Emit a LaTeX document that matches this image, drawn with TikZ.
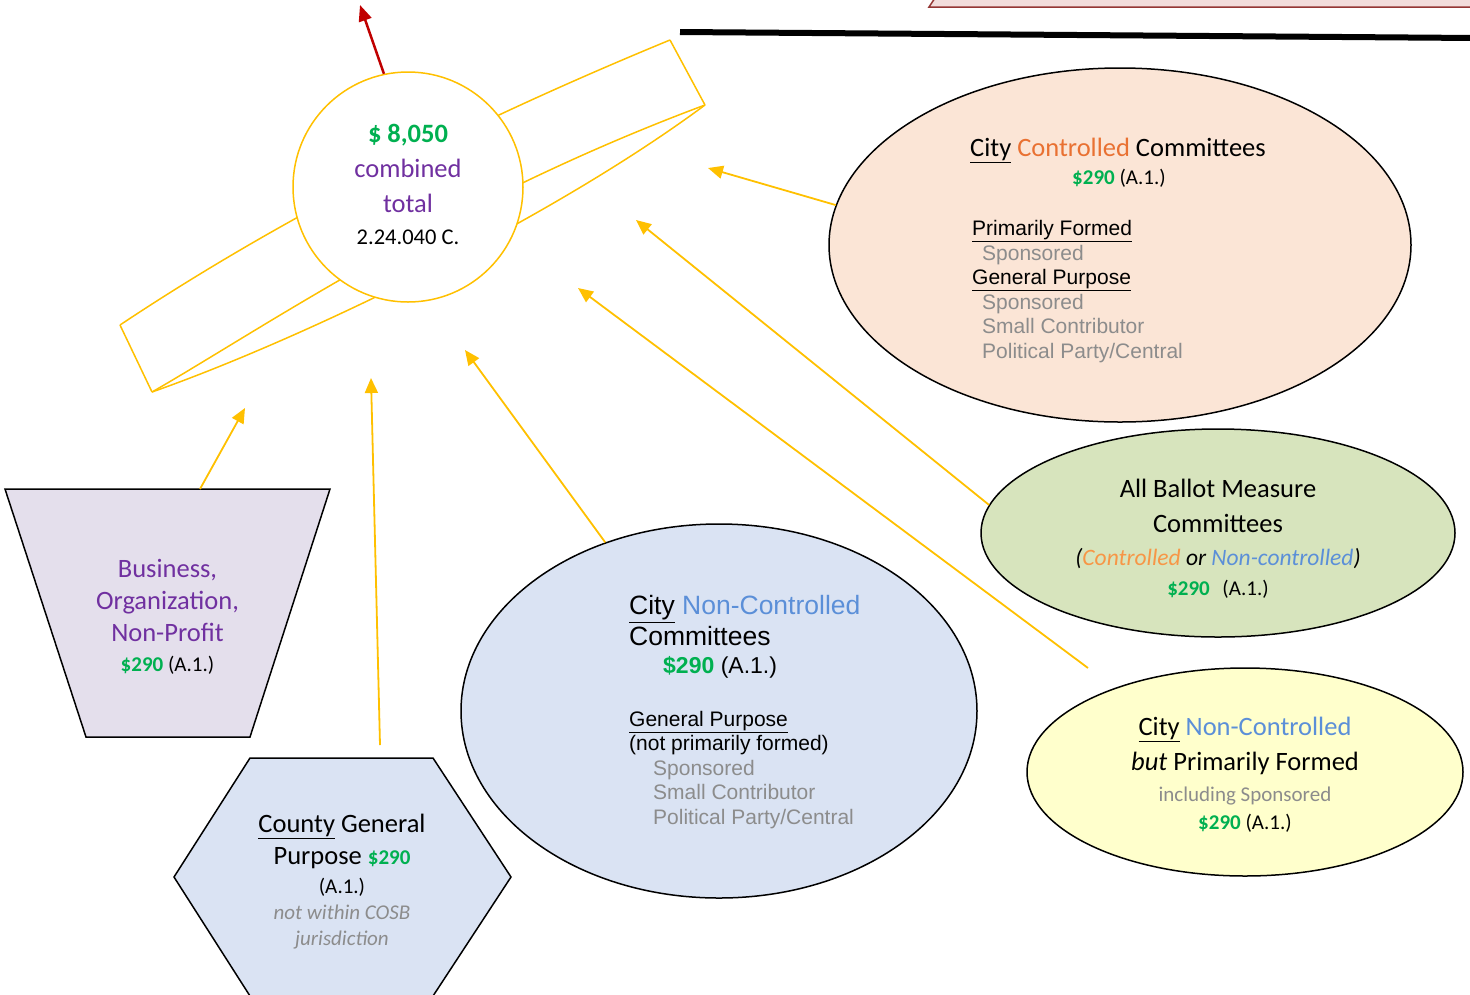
\documentclass[tikz,border=0pt]{standalone}
\usepackage{fontspec}
\setmainfont{Carlito}
\newfontfamily\arialfont{Liberation Sans}
\usetikzlibrary{arrows.meta,calc,shapes.geometric}
\usepackage{xcolor}

\definecolor{gold}{HTML}{FFC000}
\definecolor{cash}{HTML}{00B050}
\definecolor{plum}{HTML}{7030A0}
\definecolor{ctrl}{HTML}{E97132}
\definecolor{ctrllight}{HTML}{F79646}
\definecolor{nonctrl}{HTML}{5B8FD8}
\definecolor{greytext}{HTML}{8C8C8C}
\definecolor{peach}{HTML}{FBE5D6}
\definecolor{lavender}{HTML}{E4DFEC}
\definecolor{paleblue}{HTML}{DAE3F3}
\definecolor{sage}{HTML}{D7E4BD}
\definecolor{cream}{HTML}{FFFFCC}
\definecolor{rose}{HTML}{F2DCDB}
\definecolor{roseline}{HTML}{943634}
\definecolor{alarm}{HTML}{C00000}

\newcommand\setfs[2]{\fontsize{#1}{#2}\selectfont}
\newcommand\amt[1]{\textcolor{cash}{\bfseries\$#1}}

\tikzset{
  bubble/.style={ellipse, draw=black, line width=1.5pt, inner sep=0pt, align=center},
  feed/.style={draw=gold, line width=1.8pt, -{Triangle[length=15pt,width=13pt]}},
  band/.style={draw=gold, line width=1.5pt},
  txt/.style={inner sep=0pt, align=left},
}

\begin{document}
\begin{tikzpicture}[x=1pt,y=-1pt]
  \useasboundingbox (0,0) rectangle (1470,994);

  % shapes cut off at the top
  \filldraw[fill=rose, draw=roseline, line width=1.5pt] (929,7) -- (937,-5) -- (1480,-5) -- (1480,7) -- cycle;
  \draw[line width=6pt] (680,32) -- (1475,38);

  % ring round the total
  \draw[band] (120,325) -- (152,392);
  \draw[band] (670,40) -- (705,105);
  \draw[band] (120,325) .. controls (300,205) and (500,110) .. (670,40);
  \draw[band] (152,392) .. controls (260,330) and (450,200) .. (705,105);
  \draw[band] (152,392) .. controls (300,340) and (550,220) .. (705,105);

  \node[circle, draw=gold, line width=1.5pt, fill=white, minimum size=230pt, inner sep=0pt] (total) at (408,187) {};
  \node[inner sep=0pt, align=center, font=\setfs{26.5}{35}] (totaltext) at ($(total.center)+(0,-3)$)
    {\textcolor{cash}{\bfseries\$ 8,050}\\ \textcolor{plum}{combined}\\ \textcolor{plum}{total}\\[-3pt]
     {\setfs{22.5}{27}2.24.040 C.}};

  % committees
  \node[bubble, fill=peach, minimum width=582pt, minimum height=354pt] (cc) at (1120,245) {};
  \node[txt, anchor=north west, font=\arialfont\setfs{21}{24.5}] (cctext) at (970,138)
    {{\rmfamily\setfs{26.5}{31}\underline{City} \textcolor{ctrl}{Controlled} Committees}\\[3pt]
     \hspace*{102pt}{\rmfamily\amt{290} (A.1.)}\\[27pt]
     \hspace*{2pt}\underline{Primarily Formed}\\
     \hspace*{12pt}\textcolor{greytext}{Sponsored}\\
     \hspace*{2pt}\underline{General Purpose}\\
     \hspace*{12pt}\textcolor{greytext}{Sponsored}\\
     \hspace*{12pt}\textcolor{greytext}{Small Contributor}\\
     \hspace*{12pt}\textcolor{greytext}{Political Party/Central}};

  \node[bubble, fill=sage, minimum width=474pt, minimum height=208pt] (ballot) at (1218,533) {};
  \node[inner sep=0pt, align=center, font=\setfs{26.5}{35}] (ballottext) at ($(ballot.center)+(0,6)$)
    {All Ballot Measure\\ Committees\\[-2pt]
     {\setfs{23.5}{28}\itshape(\textcolor{ctrllight}{Controlled} or \textcolor{nonctrl}{Non-controlled})}\\[-5pt]
     {\setfs{21}{25}\amt{290}\hspace{0.6em}(A.1.)}};

  \node[bubble, fill=cream, minimum width=436pt, minimum height=208pt] (pf) at (1245,772) {};
  \node[inner sep=0pt, align=center, font=\setfs{26.5}{35}] (pftext) at ($(pf.center)+(0,3)$)
    {\underline{City} \textcolor{nonctrl}{Non-Controlled}\\ \textit{but} Primarily Formed\\[-4pt]
     {\setfs{21}{25}\color{greytext}including Sponsored}\\[-7pt]
     {\setfs{21}{25}\amt{290} (A.1.)}};

  \node[bubble, fill=paleblue, minimum width=516pt, minimum height=374pt] (cnc) at (719,711) {};
  \node[txt, anchor=north west, font=\arialfont\setfs{21}{24.5}] (cnctext) at (629,595.5)
    {{\setfs{26.5}{31}\underline{City} \textcolor{nonctrl}{Non-Controlled}}\\[2.5pt]
     {\setfs{26.5}{31}Committees}\\[3.5pt]
     \hspace*{34pt}{\setfs{23}{28}\amt{290} (A.1.)}\\[28.5pt]
     \underline{General Purpose}\\
     (not primarily formed)\\
     \hspace*{24pt}\textcolor{greytext}{Sponsored}\\
     \hspace*{24pt}\textcolor{greytext}{Small Contributor}\\
     \hspace*{24pt}\textcolor{greytext}{Political Party/Central}};

  % business funnel
  \filldraw[fill=lavender, draw=black, line width=1.5pt] (5,489) -- (330,489) -- (250,737) -- (86,737) -- cycle;
  \node[inner sep=0pt, align=center, font=\setfs{26.5}{32}] (biz) at (167.5,617)
    {\textcolor{plum}{Business,}\\ \textcolor{plum}{Organization,}\\ \textcolor{plum}{Non-Profit}\\[-2pt]
     {\setfs{21}{25}\amt{290} (A.1.)}};

  \filldraw[fill=paleblue, draw=black, line width=1.5pt]
    (250,758) -- (433,758) -- (511,877) -- (433,996) -- (250,996) -- (174,877) -- cycle;
  \node[inner sep=0pt, align=center, font=\setfs{26.5}{32}] (county) at (342,881.5)
    {\underline{County} General\\ Purpose {\setfs{21}{25}\amt{290}}\\[-3pt]
     {\setfs{21}{25}(A.1.)}\\[-6pt]
     {\setfs{21}{25}\itshape\color{greytext}not within COSB}\\[-6pt]
     {\setfs{21}{25}\itshape\color{greytext}jurisdiction}};

  % contributions into the total
  \coordinate (biztop) at (200,489);
  \coordinate (aimbiz) at (245,408);
  \coordinate (aimcounty) at (371,378);
  \coordinate (aimcnc) at (465,350);
  \coordinate (aimpf) at (578,288);
  \coordinate (aimballot) at (636,220);
  \coordinate (aimcc) at (708,168);
  \coordinate (countystart) at (380,745);
  \coordinate (pfstart) at (1088,668);
  \coordinate (up) at (360,5);

  \draw[feed] (biztop) -- (aimbiz);
  \draw[feed] (countystart) -- (aimcounty);
  \draw[feed] (cnc.124.6) -- (aimcnc);
  \draw[feed] (pfstart) -- (aimpf);
  \draw[feed] (ballot.173) -- (aimballot);
  \draw[feed] (cc.172) -- (aimcc);
  \draw[line width=2.5pt, draw=alarm, -{Triangle[length=16pt,width=13pt]}] (total.102.5) -- (up);
\end{tikzpicture}
\end{document}
